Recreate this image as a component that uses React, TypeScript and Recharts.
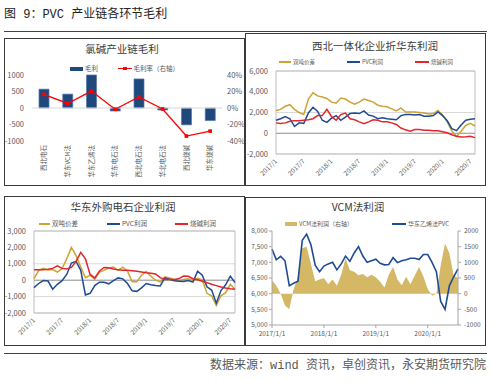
import React from "react";
import {
  Area,
  Bar,
  CartesianGrid,
  ComposedChart,
  Line,
  LineChart,
  ReferenceArea,
  ReferenceLine,
  XAxis,
  YAxis,
} from "recharts";

const FONT = '"Noto Sans CJK SC", "Noto Sans", sans-serif';
const HEAD_FONT = '"Liberation Mono", "Noto Sans CJK SC", monospace';
const GOLD = "#CCA435";
const BLUE = "#1F4B94";
const RED = "#E2262B";
const AXIS_TEXT = "#595959";

// chart 1: 氯碱产业链毛利
const c1Categories = ["西北电石", "华东VCM法", "华东乙烯法", "华东电石法", "西北电石法", "华北电石法", "西北烧碱", "华东烧碱"];
const c1Profit = [570, 420, 1000, -90, 880, -60, -510, -380];
const c1Margin = [16.5, 5.5, 20.5, -1.5, 13.5, -1.2, -34, -28];

// chart 2: 西北一体化企业折华东利润 (monthly, 2017/1 ...)
const c2Spread = [2200, 2300, 2600, 2750, 2300, 2000, 1800, 3300, 3900, 3600, 3500, 3350, 3000, 2900, 3400, 3300, 3000, 2800, 3000, 3300, 3150, 3000, 2700, 2600, 2550, 2350, 2150, 2450, 2050, 2050, 2050, 2000, 1950, 1850, 1900, 2200, 1750, 1100, 200, -300, 200, 750, 950, 700];
const c2Pvc = [1250, 1400, 1600, 1400, 650, 1000, 950, 1950, 2500, 2100, 1250, 1050, 1450, 1700, 1250, 1550, 1900, 1950, 1900, 2150, 1750, 1650, 1400, 1500, 1400, 1350, 1300, 1700, 1800, 1800, 1750, 1800, 1650, 1650, 1700, 2050, 1700, 1200, 450, 250, 800, 1250, 1350, 1400];
const c2Caustic = [1000, 950, 1000, 1150, 1200, 1200, 1250, 1300, 1400, 1700, 1700, 2300, 1600, 1250, 1800, 1950, 1400, 1300, 1100, 930, 1100, 1300, 1250, 1100, 1100, 1000, 850, 500, 330, 200, 350, 350, 300, 300, 250, 230, 150, 50, -150, -300, -350, -330, -300, -420];

// chart 3: 华东外购电石企业利润
const c3Spread = [100, 600, 720, 620, 650, 500, 700, 1300, 2000, 1500, 800, 150, 300, 50, 500, 600, 750, 800, 600, 800, 550, -100, -100, 300, 530, 250, 0, -100, 200, 130, 60, -20, 50, 80, -20, 120, 20, -800, -950, -1550, -950, -760, -250, -550];
const c3Pvc = [-450, -200, -20, -50, -550, -250, -30, 350, 1050, 1150, 600, -900, -800, -330, -120, -120, -220, -20, 140, 80, -200, -650, -680, -470, -200, -280, -330, -350, 140, 50, -40, -60, -80, -20, -120, 550, 300, -400, -600, -1400, -630, -280, 250, -150];
const c3Caustic = [630, 630, 630, 670, 720, 880, 720, 690, 780, 1150, 1700, 1300, 350, 140, 560, 780, 760, 680, 630, 610, 600, 580, 550, 500, 450, 420, 380, 160, 40, 60, 30, 100, 250, 240, 90, 30, -60, -150, -250, -330, -420, -480, -520, -550];

// chart 4: VCM法利润
const c4Vcm = [430, 250, 0, -380, -500, 150, 500, 1450, 1500, 950, 400, 450, 500, 300, 450, 250, 600, 1130, 750, 700, 590, 630, 520, 600, 520, 380, 200, 600, 850, 450, 270, 540, 300, 580, 850, 550, 150, -70, 0, 900, 1600, 1290, 580, 500];
const c4Pvc = [7420, 7080, 7190, 7050, 6250, 6330, 6400, 7700, 7900, 7560, 6900, 6700, 6880, 6950, 7000, 6760, 6950, 7200, 7030, 7300, 7500, 7200, 7000, 7050, 7100, 6970, 6920, 6930, 7150, 6990, 7050, 7080, 7130, 7130, 7090, 7250, 7250, 7000, 6700, 5750, 5500, 6250, 6540, 6790];

const halfYearTicks = [0, 6, 12, 18, 24, 30, 36, 42];
const halfYearLabels = ["2017/1", "2017/7", "2018/1", "2018/7", "2019/1", "2019/7", "2020/1", "2020/7"];
const yearTicks = [0, 12, 24, 36];
const yearLabels = ["2017/1/1", "2018/1/1", "2019/1/1", "2020/1/1"];

const c1Data = c1Categories.map((name, i) => ({ name, profit: c1Profit[i], margin: c1Margin[i] / 100 }));
const c2Data = c2Spread.map((v, i) => ({ m: i, spread: v, pvc: c2Pvc[i], caustic: c2Caustic[i] }));
const c3Data = c3Spread.map((v, i) => ({ m: i, spread: v, pvc: c3Pvc[i], caustic: c3Caustic[i] }));
const c4Data = c4Vcm.map((v, i) => ({ m: i, vcm: v, pvc: c4Pvc[i] }));

const comma = (v: number) => v.toLocaleString("en-US");

const Txt = ({ x, y, size, color = AXIS_TEXT, anchor = "start", font = FONT, children }: any) => {
  const style: any = {
    position: "absolute",
    top: y - size * 0.75,
    height: size * 1.5,
    lineHeight: `${size * 1.5}px`,
    fontSize: size,
    color,
    fontFamily: font,
    whiteSpace: "nowrap",
  };
  if (anchor === "middle") {
    style.left = x - 150;
    style.width = 300;
    style.textAlign = "center";
  } else if (anchor === "end") {
    style.left = x - 400;
    style.width = 400;
    style.textAlign = "right";
  } else {
    style.left = x;
  }
  return <div style={style}>{children}</div>;
};

const Swatch = ({ x, y, w, h, color }: any) => (
  <div style={{ position: "absolute", left: x, top: y - h / 2, width: w, height: h, background: color }} />
);

const Panel = ({ x, y, w, h }: any) => (
  <div style={{ position: "absolute", left: x, top: y, width: w, height: h, boxSizing: "border-box", border: "1px solid #3c3c3c" }} />
);

const CatTick = ({ x, y, payload }: any) => (
  <text x={x} y={y} transform={`rotate(-90, ${x}, ${y})`} textAnchor="end" dy="0.35em" fontSize={6.5} fill={AXIS_TEXT} fontFamily={FONT}>
    {payload.value}
  </text>
);

const DateTick = ({ x, y, payload }: any) => (
  <text x={x} y={y} transform={`rotate(-45, ${x}, ${y})`} textAnchor="end" dy="0.35em" fontSize={6.5} fill={AXIS_TEXT} fontFamily={FONT}>
    {halfYearLabels[halfYearTicks.indexOf(payload.value)]}
  </text>
);

const SquareDot = ({ cx, cy }: any) => <rect x={cx - 1.8} y={cy - 1.8} width={3.6} height={3.6} fill="#FF0000" />;

const tickStyle = { fontSize: 7.5, fill: AXIS_TEXT, fontFamily: FONT };
const smallTick = { fontSize: 6.5, fill: AXIS_TEXT, fontFamily: FONT };

const GrossChart = () => (
  <ComposedChart width={239} height={146} data={c1Data} margin={{ top: 36, right: 0, bottom: 0, left: 0 }}>
    <XAxis dataKey="name" interval={0} axisLine={false} tickLine={false} tickSize={0} tickMargin={4} height={44} tick={CatTick} />
    <YAxis yAxisId="l" domain={[-1000, 1000]} ticks={[-1000, -500, 0, 500, 1000]} width={27} axisLine={false} tickLine={false} tickSize={0} tickMargin={8} tick={tickStyle} />
    <YAxis
      yAxisId="r"
      orientation="right"
      domain={[-0.4, 0.4]}
      ticks={[-0.4, -0.2, 0, 0.2, 0.4]}
      width={22}
      axisLine={false}
      tickLine={false}
      tickSize={0}
      tickMargin={5}
      tick={tickStyle}
      tickFormatter={(v: number) => `${Math.round(v * 100)}%`}
    />
    <ReferenceLine yAxisId="l" y={0} stroke="#d9d9d9" />
    <Bar yAxisId="l" dataKey="profit" fill="#1F497D" stroke="#5575AC" strokeWidth={0.7} barSize={10} isAnimationActive={false} />
    <Line yAxisId="r" dataKey="margin" stroke="#FF0000" strokeWidth={1.3} dot={SquareDot} isAnimationActive={false} />
  </ComposedChart>
);

const ProfitLines = ({ data, width, height, margin, yWidth, domain, ticks }: any) => (
  <LineChart width={width} height={height} data={data} margin={margin}>
    <CartesianGrid vertical={false} stroke="#d9d9d9" />
    <XAxis dataKey="m" type="number" domain={[0, 43]} ticks={halfYearTicks} axisLine={false} tickLine={false} tickSize={0} tickMargin={6} height={31} tick={DateTick} />
    <YAxis domain={domain} ticks={ticks} width={yWidth} axisLine={false} tickLine={false} tickSize={0} tickMargin={8} tick={tickStyle} tickFormatter={comma} />
    <ReferenceArea x1={0} x2={43} y1={domain[0]} y2={domain[1]} fill="none" stroke="#bfbfbf" />
    <ReferenceLine y={0} stroke="#8c8c8c" />
    <Line dataKey="spread" stroke={GOLD} strokeWidth={1.5} dot={false} isAnimationActive={false} />
    <Line dataKey="pvc" stroke={BLUE} strokeWidth={1.5} dot={false} isAnimationActive={false} />
    <Line dataKey="caustic" stroke={RED} strokeWidth={1.5} dot={false} isAnimationActive={false} />
  </LineChart>
);

const VcmChart = () => (
  <ComposedChart width={239} height={146} data={c4Data} margin={{ top: 33, right: 0, bottom: 0, left: 0 }}>
    <XAxis
      dataKey="m"
      type="number"
      domain={[0, 43]}
      ticks={yearTicks}
      stroke="#a6a6a6"
      tickSize={3}
      tickMargin={3}
      height={19}
      tick={smallTick}
      tickFormatter={(v: number) => yearLabels[yearTicks.indexOf(v)]}
    />
    <YAxis yAxisId="l" domain={[5000, 8000]} ticks={[5000, 5500, 6000, 6500, 7000, 7500, 8000]} width={26} stroke="#a6a6a6" tickSize={3} tickMargin={1.5} tick={smallTick} tickFormatter={comma} />
    <YAxis yAxisId="r" orientation="right" domain={[-1000, 2000]} ticks={[-1000, -500, 0, 500, 1000, 1500, 2000]} width={27} stroke="#a6a6a6" tickSize={3} tickMargin={3} tick={smallTick} />
    <Area yAxisId="r" dataKey="vcm" baseValue={0} fill="#D4B866" fillOpacity={1} stroke="none" isAnimationActive={false} />
    <Line yAxisId="l" dataKey="pvc" stroke={BLUE} strokeWidth={1.6} dot={false} isAnimationActive={false} />
  </ComposedChart>
);

export default function App() {
  return (
    <div style={{ position: "absolute", left: 0, top: 0, width: 494, height: 382, background: "#fff", overflow: "hidden", fontFamily: FONT }}>
      <Txt x={4} y={15} size={12} color="#222" font={HEAD_FONT}>图 9：PVC 产业链各环节毛利</Txt>
      <div style={{ position: "absolute", left: 4, top: 31, width: 483, height: 1, background: "#9B1B1F" }} />

      <Panel x={4} y={38} w={241} h={148} />
      <Panel x={245} y={33} w={241} h={153} />
      <Panel x={4} y={196} w={241} h={150} />
      <Panel x={245} y={197} w={241} h={149} />

      {/* chart 1 */}
      <Txt x={122} y={49} size={10.5} color="#3a3a3a" anchor="middle">氯碱产业链毛利</Txt>
      <Swatch x={70} y={68.7} w={13} h={4} color="#1F497D" />
      <Txt x={85} y={68.7} size={6.5}>毛利</Txt>
      <Swatch x={118} y={68.7} w={14} h={1.3} color="#FF0000" />
      <Swatch x={123.2} y={68.7} w={3.6} h={3.6} color="#FF0000" />
      <Txt x={133.5} y={68.7} size={6.5}>毛利率（右轴）</Txt>
      <div style={{ position: "absolute", left: 5, top: 39 }}>
        <GrossChart />
      </div>

      {/* chart 2 */}
      <Txt x={375} y={46} size={10.5} color="#3a3a3a" anchor="middle">西北一体化企业折华东利润</Txt>
      <Swatch x={279} y={62} w={12} h={2} color={GOLD} />
      <Txt x={293} y={62} size={5.5}>双吨价差</Txt>
      <Swatch x={347} y={62} w={13} h={2} color={BLUE} />
      <Txt x={362} y={62} size={5.5}>PVC利润</Txt>
      <Swatch x={415} y={62} w={14} h={2} color={RED} />
      <Txt x={431} y={62} size={5.5}>烧碱利润</Txt>
      <div style={{ position: "absolute", left: 246, top: 34 }}>
        <ProfitLines
          data={c2Data}
          width={239}
          height={151}
          margin={{ top: 37, right: 10, bottom: 0, left: 0 }}
          yWidth={30}
          domain={[-2000, 6000]}
          ticks={[-2000, 0, 2000, 4000, 6000]}
        />
      </div>

      {/* chart 3 */}
      <Txt x={123} y={207} size={10.5} color="#3a3a3a" anchor="middle">华东外购电石企业利润</Txt>
      <Swatch x={39} y={223.5} w={11} h={2} color={GOLD} />
      <Txt x={52} y={223.5} size={6.5}>双吨价差</Txt>
      <Swatch x={107} y={223.5} w={13} h={2} color={BLUE} />
      <Txt x={122} y={223.5} size={6.5}>PVC利润</Txt>
      <Swatch x={175} y={223.5} w={13} h={2} color={RED} />
      <Txt x={190} y={223.5} size={6.5}>烧碱利润</Txt>
      <div style={{ position: "absolute", left: 5, top: 197 }}>
        <ProfitLines
          data={c3Data}
          width={239}
          height={147}
          margin={{ top: 34, right: 9, bottom: 0, left: 0 }}
          yWidth={29}
          domain={[-2000, 3000]}
          ticks={[-2000, -1000, 0, 1000, 2000, 3000]}
        />
      </div>

      {/* chart 4 */}
      <Txt x={358} y={207} size={10.5} color="#3a3a3a" anchor="middle">VCM法利润</Txt>
      <Swatch x={285} y={223.7} w={12} h={4} color="#D4B866" />
      <Txt x={299} y={223.7} size={6}>VCM法利润（右轴）</Txt>
      <Swatch x={392} y={223.7} w={14} h={2} color={BLUE} />
      <Txt x={408} y={223.7} size={6}>华东乙烯法PVC</Txt>
      <div style={{ position: "absolute", left: 246, top: 198 }}>
        <VcmChart />
      </div>

      <div style={{ position: "absolute", left: 4, top: 353, width: 483, height: 1, background: "#9B1B1F" }} />
      <Txt x={486} y={366} size={12} color="#595959" anchor="end" font={HEAD_FONT}>数据来源：wind 资讯，卓创资讯，永安期货研究院</Txt>
    </div>
  );
}
